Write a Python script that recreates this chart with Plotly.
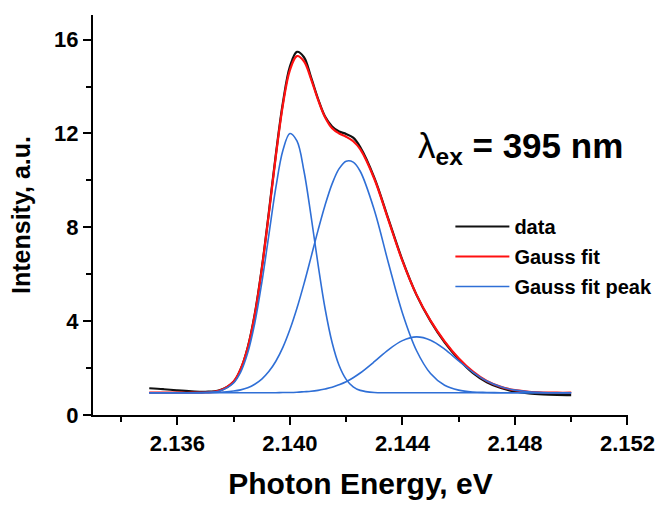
import plotly.graph_objects as go

# ---- data ----
energy = [2.1350, 2.1355, 2.1360, 2.1365, 2.1370, 2.1375, 2.1380, 2.13825, 2.1385, 2.13875,
          2.1390, 2.13925, 2.1395, 2.13975, 2.1400, 2.14025, 2.1405, 2.14075, 2.1410, 2.14125,
          2.1415, 2.14175, 2.1420, 2.14225, 2.1425, 2.1430, 2.1435, 2.1440, 2.1445, 2.1450,
          2.1455, 2.1460, 2.1465, 2.1470, 2.1475, 2.1480, 2.1485, 2.1490, 2.1495, 2.1500]

data_y = [1.14, 1.10, 1.05, 1.01, 0.99, 1.05, 1.42, 1.95, 2.88, 4.30,
          6.25, 8.62, 11.10, 13.30, 14.85, 15.48, 15.25, 14.40, 13.48, 12.72,
          12.30, 12.08, 11.98, 11.82, 11.42, 10.12, 8.36, 6.60, 5.12, 4.00,
          3.10, 2.38, 1.80, 1.40, 1.15, 1.00, 0.92, 0.88, 0.86, 0.85]

fit_y = [0.95, 0.95, 0.95, 0.95, 0.96, 1.04, 1.43, 1.96, 2.86, 4.26,
         6.21, 8.56, 11.03, 13.21, 14.70, 15.30, 15.08, 14.33, 13.44, 12.69,
         12.22, 12.00, 11.86, 11.67, 11.33, 10.07, 8.32, 6.57, 5.13, 4.02,
         3.14, 2.42, 1.86, 1.45, 1.20, 1.06, 0.99, 0.96, 0.95, 0.95]

peak1_y = [0.95, 0.95, 0.95, 0.95, 0.96, 1.02, 1.37, 1.83, 2.65, 3.91,
           5.63, 7.66, 9.69, 11.27, 12.00, 11.68, 10.40, 8.50, 6.42, 4.54,
           3.09, 2.11, 1.52, 1.20, 1.05, 0.96, 0.95, 0.95, 0.95, 0.95,
           0.95, 0.95, 0.95, 0.95, 0.95, 0.95, 0.95, 0.95, 0.95, 0.95]

peak2_y = [0.95, 0.95, 0.95, 0.95, 0.96, 0.97, 1.02, 1.07, 1.16, 1.31,
           1.53, 1.85, 2.29, 2.88, 3.64, 4.55, 5.59, 6.72, 7.87, 8.94,
           9.85, 10.50, 10.82, 10.78, 10.39, 8.74, 6.49, 4.35, 2.75, 1.77,
           1.27, 1.06, 0.98, 0.96, 0.95, 0.95, 0.95, 0.95, 0.95, 0.95]

peak3_y = [0.95, 0.95, 0.95, 0.95, 0.95, 0.95, 0.95, 0.95, 0.95, 0.95,
           0.95, 0.95, 0.95, 0.96, 0.96, 0.97, 0.99, 1.01, 1.05, 1.11,
           1.18, 1.29, 1.42, 1.59, 1.79, 2.27, 2.78, 3.17, 3.33, 3.19,
           2.81, 2.31, 1.83, 1.45, 1.20, 1.06, 0.99, 0.96, 0.95, 0.95]

x_tick_vals = [2.136, 2.140, 2.144, 2.148, 2.152]
x_tick_text = ["2.136", "2.140", "2.144", "2.148", "2.152"]
y_tick_vals = [0, 4, 8, 12, 16]
y_tick_text = ["0", "4", "8", "12", "16"]

series_names = ["data", "Gauss fit", "Gauss fit peak"]

# ---- styling ----
FONT = "Liberation Sans, Arial, sans-serif"
BLACK = "#111111"
RED = "#ff1010"
BLUE = "#2f6fd6"

fig = go.Figure()

fig.add_trace(go.Scatter(x=energy, y=data_y, mode="lines", name=series_names[0],
                         line=dict(color=BLACK, width=2.2, shape="spline"),
                         legendgroup="a"))
fig.add_trace(go.Scatter(x=energy, y=fit_y, mode="lines", name=series_names[1],
                         line=dict(color=RED, width=2.2, shape="spline"),
                         legendgroup="b"))
for i, py in enumerate([peak1_y, peak2_y, peak3_y]):
    fig.add_trace(go.Scatter(x=energy, y=py, mode="lines", name=series_names[2],
                             line=dict(color=BLUE, width=1.6, shape="spline"),
                             legendgroup="c", showlegend=(i == 0)))

fig.add_annotation(
    text="<span style='font-weight:normal'>λ</span><sub>ex</sub> = 395 nm",
    xref="paper", yref="paper", x=0.603, y=0.667, xanchor="left", yanchor="middle",
    showarrow=False, font=dict(family=FONT, size=35, color="black", weight="bold"))

fig.update_layout(
    width=672, height=506, autosize=False,
    margin=dict(l=93, r=44, t=15, b=91),
    paper_bgcolor="white", plot_bgcolor="white",
    font=dict(family=FONT, color="black"),
    showlegend=True,
    legend=dict(x=0.668, y=0.52, xanchor="left", yanchor="top",
                bgcolor="rgba(0,0,0,0)", traceorder="grouped", tracegroupgap=1,
                font=dict(family=FONT, size=20, color="black", weight="bold"),
                itemwidth=54),
)

fig.update_xaxes(
    range=[2.133, 2.15202], autorange=False,
    tickmode="array", tickvals=x_tick_vals, ticktext=x_tick_text,
    ticks="outside", ticklen=8, tickwidth=2, tickcolor="black",
    minor=dict(ticks="outside", ticklen=5, tickwidth=2, tickcolor="black",
               dtick=0.002, tick0=2.134, showgrid=False),
    showline=True, linewidth=2, linecolor="black",
    showgrid=False, zeroline=False, automargin=False,
    tickfont=dict(family=FONT, size=22, color="black", weight="bold"),
    title=dict(text="Photon Energy, eV", standoff=18,
               font=dict(family=FONT, size=30, color="black", weight="bold")),
)
fig.update_yaxes(
    range=[0, 17.05], autorange=False,
    tickmode="array", tickvals=y_tick_vals, ticktext=y_tick_text,
    ticks="outside", ticklen=8, tickwidth=2, tickcolor="black",
    minor=dict(ticks="outside", ticklen=5, tickwidth=2, tickcolor="black",
               dtick=2, tick0=0, showgrid=False),
    showline=True, linewidth=2, linecolor="black",
    showgrid=False, zeroline=False, automargin=False,
    tickfont=dict(family=FONT, size=22, color="black", weight="bold"),
    title=dict(text="Intensity, a.u.", standoff=16,
               font=dict(family=FONT, size=25, color="black", weight="bold")),
)

fig.write_html("out.html")
